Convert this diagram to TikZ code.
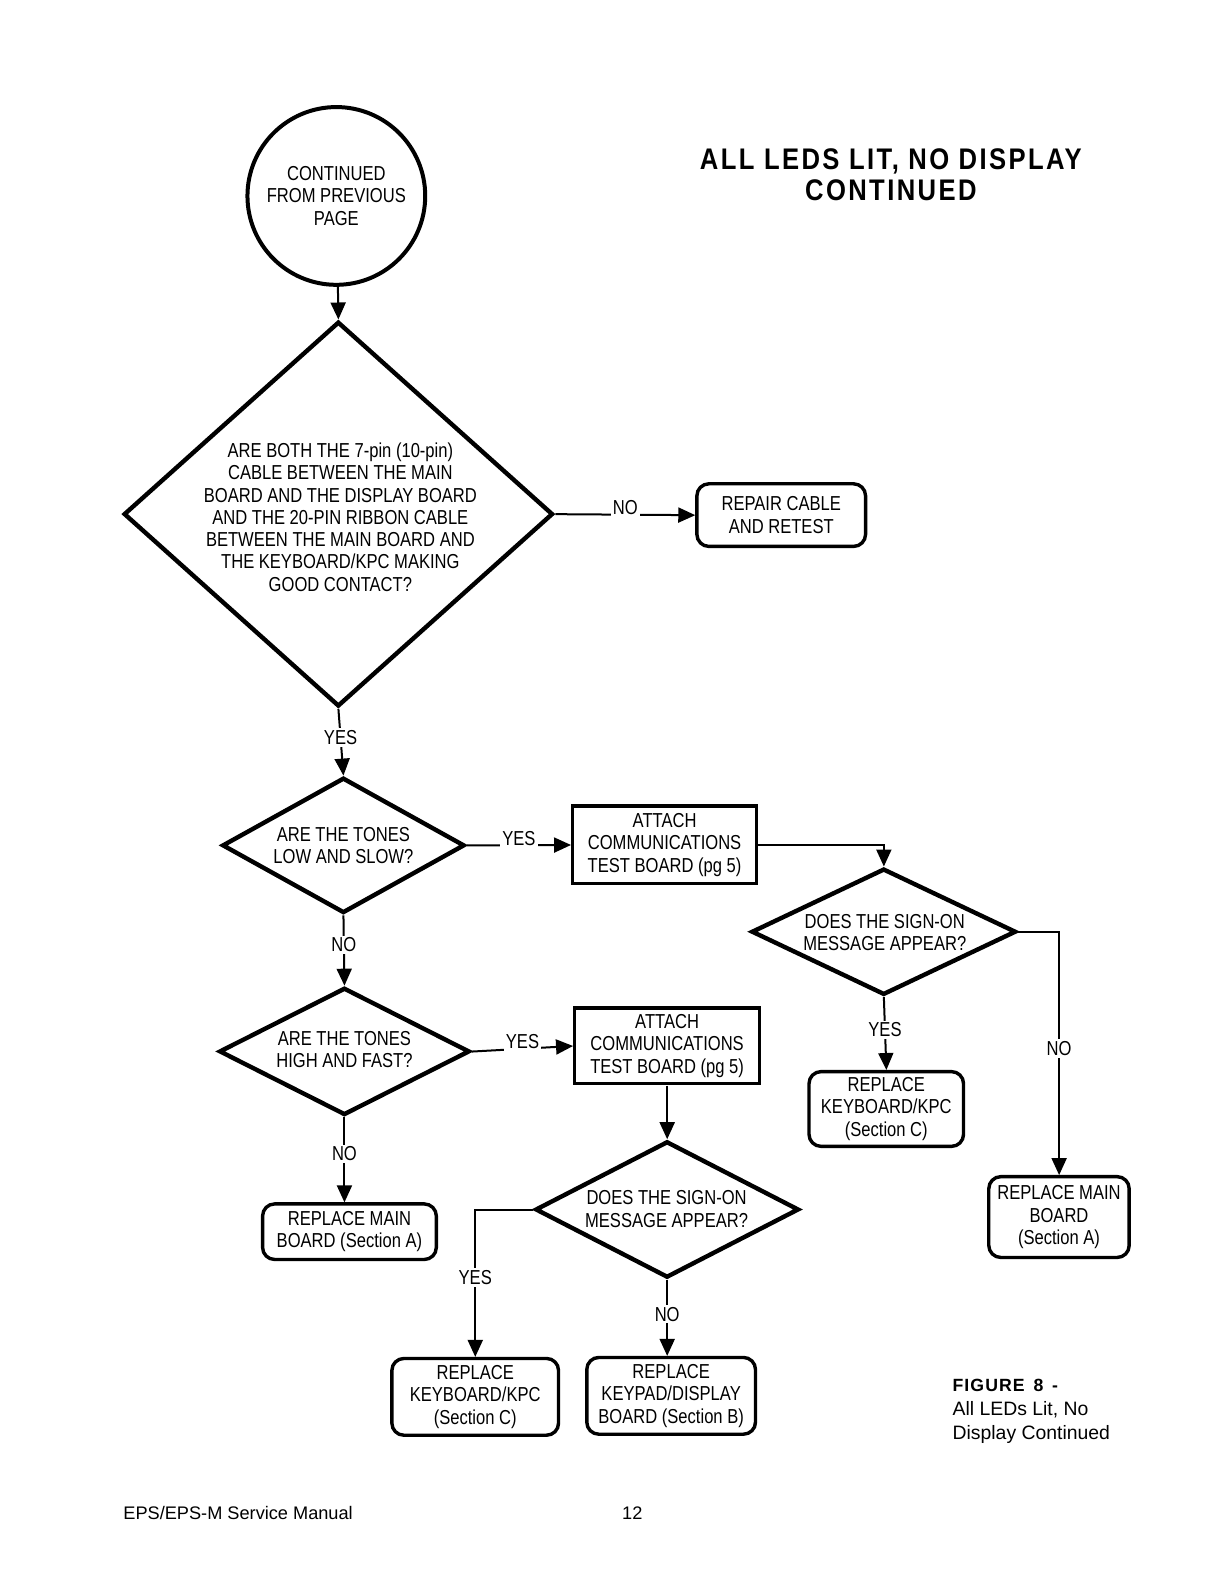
\documentclass[tikz,border=0pt]{standalone}
\usepackage{fontspec}
\setmainfont{Liberation Sans}[FakeStretch=0.82]
\newfontfamily\plainsans{Liberation Sans}
\newfontfamily\titlefont{Liberation Sans}[FakeStretch=0.86, LetterSpace=8]
\newfontfamily\capbold{Liberation Sans}[LetterSpace=6]
\usetikzlibrary{shapes.geometric,arrows.meta}
\begin{document}
\begin{tikzpicture}[x=1pt,y=-1pt,scale=1.01,transform shape,
  dia/.style={diamond, draw, line width=4.4pt, inner sep=0pt, aspect=1},
  txt/.style={align=center, inner sep=0pt, font=\fontsize{20}{22}\selectfont},
  rbox/.style={draw, line width=3.4pt, rounded corners=12pt, align=center, inner sep=0pt, font=\fontsize{20}{22}\selectfont},
  sbox/.style={draw, line width=3.4pt, align=center, inner sep=0pt, font=\fontsize{20}{22}\selectfont},
  conn/.style={line width=2pt},
  arr/.style={conn, -{Triangle[length=17pt,width=15pt]}},
  hlbl/.style={fill=white, inner sep=2pt, anchor=base, font=\fontsize{20}{20}\selectfont},
  vlbl/.style={fill=white, inner sep=2pt, font=\fontsize{20}{20}\selectfont}
]
\useasboundingbox (0,0) rectangle (1211.88,1568.32);
\fill[white] (0,0) rectangle (1211.88,1568.32);

% title
\node[align=center, inner sep=0pt, font=\titlefont\bfseries\fontsize{29.5}{30}\selectfont] (title) at (882,173) {ALL LEDS LIT, NO DISPLAY\\CONTINUED};

% start circle
\node[draw, circle, line width=4pt, minimum size=176pt, inner sep=0pt, align=center, font=\fontsize{20}{22}\selectfont] (start) at (333,194) {CONTINUED\\FROM PREVIOUS\\PAGE};

% big diamond
\node[dia, minimum width=425pt, minimum height=381pt] (d1) at (335,509) {};
\node[txt] (d1t) at (337,512) {ARE BOTH THE 7-pin (10-pin)\\CABLE BETWEEN THE MAIN\\BOARD AND THE DISPLAY BOARD\\AND THE 20-PIN RIBBON CABLE\\BETWEEN THE MAIN BOARD AND\\THE KEYBOARD/KPC MAKING\\GOOD CONTACT?};

\node[rbox, minimum width=167pt, minimum height=62pt] (repair) at (773.5,510) {REPAIR CABLE\\AND RETEST};

% diamond 2
\node[dia, minimum width=240pt, minimum height=134pt] (d2) at (340,837) {};
\node[txt] (d2t) at (340,837) {ARE THE TONES\\LOW AND SLOW?};
\node[sbox, minimum width=182pt, minimum height=77pt] (att1) at (658,836.5) {ATTACH\\COMMUNICATIONS\\TEST BOARD (pg 5)};

% diamond 3
\node[dia, minimum width=262pt, minimum height=125pt] (d3) at (875,922.5) {};
\node[txt] (d3t) at (876,923) {DOES THE SIGN-ON\\MESSAGE APPEAR?};
\node[rbox, minimum width=153pt, minimum height=74pt] (kbd1) at (877.5,1098) {REPLACE\\KEYBOARD/KPC\\(Section C)};
\node[rbox, minimum width=139pt, minimum height=80pt] (main1) at (1048.5,1205) {REPLACE MAIN\\BOARD\\(Section A)};

% diamond 4
\node[dia, minimum width=248pt, minimum height=126pt] (d4) at (341,1041) {};
\node[txt] (d4t) at (341,1039) {ARE THE TONES\\HIGH AND FAST?};
\node[sbox, minimum width=183pt, minimum height=75pt] (att2) at (660.5,1035.5) {ATTACH\\COMMUNICATIONS\\TEST BOARD (pg 5)};
\node[rbox, minimum width=172pt, minimum height=55pt] (main2) at (346,1219.5) {REPLACE MAIN\\BOARD (Section A)};

% diamond 5
\node[dia, minimum width=261pt, minimum height=135pt] (d5) at (660.5,1197.5) {};
\node[txt] (d5t) at (660,1197) {DOES THE SIGN-ON\\MESSAGE APPEAR?};
\node[rbox, minimum width=165pt, minimum height=76pt] (kbd2) at (470.5,1383) {REPLACE\\KEYBOARD/KPC\\(Section C)};
\node[rbox, minimum width=167pt, minimum height=76pt] (keypad) at (664.5,1382) {REPLACE\\KEYPAD/DISPLAY\\BOARD (Section B)};

% caption and footer
\node[align=left, anchor=north west, inner sep=0pt, font=\plainsans\fontsize{19.2}{24}\selectfont] (cap) at (943,1365) {{\capbold\bfseries\fontsize{17.5}{24}\selectfont FIGURE\enspace 8\enspace -}\\All LEDs Lit, No\\Display Continued};
\node[anchor=base west, inner sep=0pt, font=\plainsans\fontsize{18}{20}\selectfont] (foot) at (122,1504) {EPS/EPS-M Service Manual};
\node[anchor=base, inner sep=0pt, font=\plainsans\fontsize{18}{20}\selectfont] (pagenum) at (626,1504) {12};

% connectors
\draw[arr] (start) -- (d1.north);
\draw[arr] (d1.east) -- node[hlbl]{NO} (repair.west);
\draw[arr] (d1.south) -- node[vlbl, pos=0.43]{YES} (d2.north);
\draw[arr] (d2.east) -- node[hlbl]{YES} (att1.west);
\draw[arr] (att1.east) -| (d3.north);
\draw[arr] (d3.south) -- node[vlbl, pos=0.45]{YES} (kbd1.north);
\draw[arr] (d3.east) -| node[vlbl, pos=0.74]{NO} (main1.north);
\draw[arr] (d2.south) -- node[vlbl, pos=0.42]{NO} (d4.north);
\draw[arr] (d4.east) -- node[hlbl]{YES} (att2.west);
\draw[arr] (att2.south) -- (d5.north);
\draw[arr] (d4.south) -- node[vlbl, pos=0.43]{NO} (d4.south |- main2.north);
\draw[arr] (d5.west) -| node[vlbl, pos=0.73]{YES} (kbd2.north);
\draw[arr] (d5.south) -- node[vlbl, pos=0.45]{NO} (d5.south |- keypad.north);
\end{tikzpicture}
\end{document}
